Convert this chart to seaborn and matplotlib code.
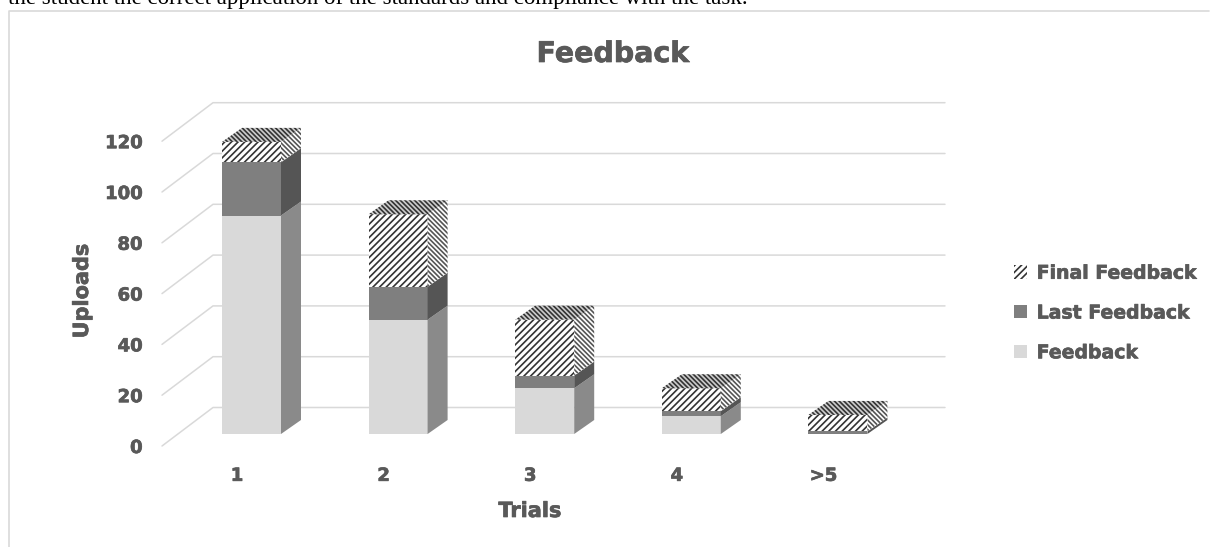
import matplotlib
matplotlib.use('Agg')
import matplotlib.pyplot as plt
import matplotlib.patheffects as pe
from matplotlib.lines import Line2D
import numpy as np
import pandas as pd
import seaborn as sns

# values
trials = ['1', '2', '3', '4', '>5']
feedback = [86, 45, 18, 7, 0]
last_feedback = [21, 13, 5, 2, 1]
final_feedback = [8, 28.5, 22, 9, 6.5]
y_ticks = [0, 20, 40, 60, 80, 100, 120]

GREY_TEXT = '#595959'
W, H = 1212, 547
# the original font is much heavier than DejaVu Bold
HEAVY = [pe.withStroke(linewidth=0.5, foreground=GREY_TEXT)]

sns.set_theme(style='white')
plt.rcParams['font.family'] = ['DejaVu Sans']
plt.rcParams['hatch.linewidth'] = 1.2

# axes box in pixels, bars stand a bit behind the front of the floor
left, right, top, bottom = 162, 945, 90, 446
x_scale = 146.6   # px per category
y_scale = 2.54    # px per upload
depth_x = 20 / x_scale
depth_y = 14 / y_scale
front_y = -12 / y_scale
back_x = 51 / x_scale
back_y = 38.5 / y_scale
bar_width = 59 / x_scale

fig = plt.figure(figsize=(W / 100, H / 100), dpi=100)
ax = fig.add_axes([left / W, 1 - bottom / H, (right - left) / W, (bottom - top) / H])

df = pd.DataFrame({
    'trials': trials,
    'feedback': feedback,
    'last': np.add(feedback, last_feedback),
    'final': np.add(np.add(feedback, last_feedback), final_feedback),
})

# stacked bars by painting the totals first
sns.barplot(data=df, x='trials', y='final', color='white', saturation=1, width=bar_width,
            label='Final Feedback', ax=ax, zorder=3, linewidth=0)
for bar in ax.containers[0]:
    bar.set_hatch('/////')
    bar.set_edgecolor('#333333')
sns.barplot(data=df, x='trials', y='last', color='#7f7f7f', saturation=1, width=bar_width,
            label='Last Feedback', ax=ax, zorder=3, linewidth=0)
sns.barplot(data=df, x='trials', y='feedback', color='#d9d9d9', saturation=1, width=bar_width,
            label='Feedback', ax=ax, zorder=3, linewidth=0)

x0 = -(251.5 - left) / x_scale
x1 = (right - 251.5) / x_scale
ax.set_xlim(x0, x1)
ax.set_ylim((434 - bottom) / y_scale, (434 - top) / y_scale)

# floor and back wall lines
for t in y_ticks:
    ax.plot([x0, x0 + back_x, x1], [t + front_y, t + front_y + back_y, t + front_y + back_y],
            color='#d9d9d9', lw=1.1, zorder=1, clip_on=False)

# fake 3d sides and tops
for i in range(len(trials)):
    xr = i + bar_width / 2
    xl = i - bar_width / 2
    f, l, t = df['feedback'][i], df['last'][i], df['final'][i]
    if f > 0:
        ax.fill([xr, xr + depth_x, xr + depth_x, xr], [0, depth_y, f + depth_y, f],
                color='#8a8a8a', lw=0, zorder=4)
    ax.fill([xr, xr + depth_x, xr + depth_x, xr], [f, f + depth_y, l + depth_y, l],
            color='#555555', lw=0, zorder=4)
    ax.fill([xr, xr + depth_x, xr + depth_x, xr], [l, l + depth_y, t + depth_y, t],
            facecolor='white', edgecolor='#555555', hatch='\\\\\\\\\\\\\\', lw=0, zorder=4)
    ax.fill([xl, xl + depth_x, xr + depth_x, xr], [t, t + depth_y, t + depth_y, t],
            facecolor='#cccccc', edgecolor='#333333', hatch='\\\\\\\\\\\\\\', lw=0, zorder=4)

sns.despine(ax=ax, left=True, bottom=True)
ax.patch.set_alpha(0)
ax.set_xticks(np.arange(len(trials)) - 14.5 / x_scale, trials)
ax.set_yticks(np.array(y_ticks) + front_y, y_ticks)
ax.tick_params(axis='x', length=0, pad=15, labelsize=13, labelcolor=GREY_TEXT)
ax.tick_params(axis='y', length=0, pad=14, labelsize=13, labelcolor=GREY_TEXT)
for lab in ax.get_xticklabels() + ax.get_yticklabels():
    lab.set_fontweight('bold')
    lab.set_path_effects(HEAVY)

ax.set_xlabel('Trials', fontsize=15, fontweight='bold', color=GREY_TEXT, path_effects=HEAVY)
ax.set_ylabel('Uploads', fontsize=15, fontweight='bold', color=GREY_TEXT, path_effects=HEAVY)
ax.xaxis.set_label_coords((530 - left) / (right - left), (bottom - 501) / (bottom - top))
ax.yaxis.set_label_coords((92 - left) / (right - left), (bottom - 291) / (bottom - top))

fig.text(613 / W, 1 - 54 / H, 'Feedback', fontsize=20.5, fontweight='bold', color=GREY_TEXT,
         ha='center', va='center', path_effects=HEAVY)

leg = ax.legend(loc='center left', bbox_to_anchor=(1014 / W, 1 - 313 / H), bbox_transform=fig.transFigure,
                frameon=False, fontsize=13.6, handlelength=0.7, handleheight=0.7, handletextpad=0.5,
                labelspacing=1.1, borderpad=0, borderaxespad=0)
for txt in leg.get_texts():
    txt.set_fontweight('bold')
    txt.set_color(GREY_TEXT)
    txt.set_path_effects(HEAVY)

# text of the page above the chart, cut off by the crop
fig.text(8 / W, 1 - 4 / H, 'the student the correct application of the standards and compliance with the task.',
         family='Liberation Serif', fontsize=16.5, color='black', ha='left', va='baseline')

# chart frame
fig.add_artist(Line2D([9 / W, 9 / W, 1 - 3 / W], [0, 1 - 11 / H, 1 - 11 / H], color='#d9d9d9', lw=1.2))

fig.savefig('out.png', dpi=100)
